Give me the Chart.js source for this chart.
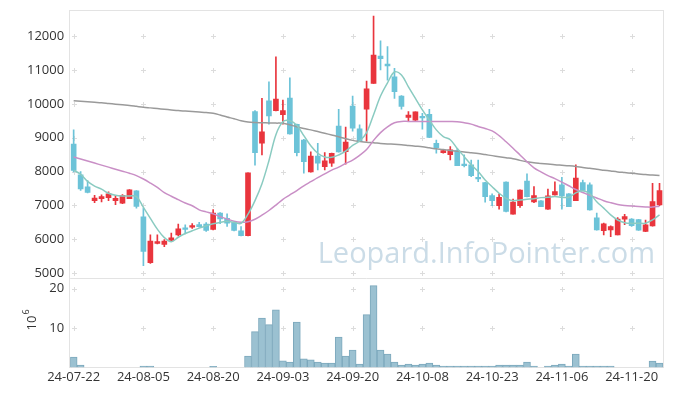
<!DOCTYPE html>
<html>
<head>
<meta charset="utf-8">
<script src="https://cdn.jsdelivr.net/npm/chart.js@4.4.1/dist/chart.umd.min.js"></script>
<style>
  html, body { margin: 0; padding: 0; background: #fff; }
</style>
</head>
<body>
<canvas id="chart" width="673" height="396"></canvas>
<script>
// trading days (yy-mm-dd)
const dates = [
  "24-07-22","24-07-23","24-07-24","24-07-25","24-07-26","24-07-29","24-07-30","24-07-31","24-08-01","24-08-02",
  "24-08-05","24-08-06","24-08-07","24-08-08","24-08-09","24-08-12","24-08-13","24-08-14","24-08-16","24-08-19",
  "24-08-20","24-08-21","24-08-22","24-08-23","24-08-26","24-08-27","24-08-28","24-08-29","24-08-30","24-09-02",
  "24-09-03","24-09-04","24-09-05","24-09-06","24-09-09","24-09-10","24-09-11","24-09-12","24-09-13","24-09-19",
  "24-09-20","24-09-23","24-09-24","24-09-25","24-09-26","24-09-27","24-09-30","24-10-02","24-10-04","24-10-07",
  "24-10-08","24-10-10","24-10-11","24-10-14","24-10-15","24-10-16","24-10-17","24-10-18","24-10-21","24-10-22",
  "24-10-23","24-10-24","24-10-25","24-10-28","24-10-29","24-10-30","24-10-31","24-11-01","24-11-04","24-11-05",
  "24-11-06","24-11-07","24-11-08","24-11-11","24-11-12","24-11-13","24-11-14","24-11-15","24-11-18","24-11-19",
  "24-11-20","24-11-21","24-11-22","24-11-25","24-11-26"
];

const opens = [
  8810,7900,7550,7140,7200,7230,7140,7065,7200,7430,
  6660,5310,5880,5845,5970,6130,6340,6355,6435,6450,
  6290,6770,6620,6490,6250,6110,9770,8835,10090,9800,
  9680,10170,9395,8930,7990,8460,8145,8245,9345,8590,
  9930,9260,9840,10605,11410,11170,10800,10230,9600,9520,
  9630,9690,8835,8560,8500,8620,8220,8195,7830,7675,
  7290,6995,7690,6740,6995,7720,7105,7135,6890,7310,
  7605,7340,7140,7675,7605,6630,6255,6280,6130,6595,
  6600,6580,6230,6395,7015
];
const highs = [
  9230,8000,7730,7300,7310,7400,7300,7320,7470,7440,
  6920,6130,6130,5990,6180,6450,6430,6460,6500,6490,
  6880,6790,6750,6500,6375,7960,9800,10160,10650,11390,
  10110,10770,9400,8950,8580,8830,8560,8545,9840,9310,
  10230,9380,10670,12590,11860,11690,11050,10240,9770,9760,
  9720,9840,8930,8650,8735,8680,8490,8340,8340,7680,
  7340,7340,7700,7190,7460,7930,7555,7140,7480,7700,
  7830,7350,8195,7750,7670,6770,6475,6400,6640,6740,
  6610,6590,6570,7655,7650
];
const lows = [
  7990,7440,7370,7080,7100,7140,7020,7050,7200,6920,
  5220,5290,5860,5785,5950,6100,6160,6320,6360,6230,
  6280,6460,6380,6250,6100,6100,8190,8490,9400,9790,
  9400,9100,8460,7950,7980,8050,8050,8150,8570,8215,
  9190,8880,8900,10600,11000,10700,10160,9840,9490,9500,
  9250,9000,8540,8540,8340,8170,8140,7850,7700,7095,
  6990,6890,6810,6740,6940,7250,7080,6960,6880,7300,
  6890,6960,7140,7430,6860,6270,6130,6080,6130,6430,
  6380,6260,6225,6390,6990
];
const closes = [
  8030,7490,7380,7220,7260,7340,7210,7300,7460,6970,
  5640,5950,5930,5950,6040,6310,6290,6405,6375,6260,
  6770,6600,6475,6260,6110,7960,8560,9170,9640,10140,
  9800,9110,8560,8290,8460,8245,8320,8540,8580,8870,
  9280,8900,10440,11440,11330,11120,10360,9920,9670,9760,
  9580,9010,8705,8620,8640,8175,8170,7880,7780,7260,
  7140,7240,6820,7095,7450,7260,7290,6965,7280,7410,
  7280,6965,7810,7440,6870,6280,6455,6375,6600,6670,
  6400,6270,6425,7115,7440
];

// moving averages as drawn (5, 20 and long term)
const ma5 = [
  8040,7920,7710,7570,7480,7360,7300,7280,7280,7260,
  6940,6620,6300,6050,5930,6060,6170,6250,6330,6400,
  6460,6500,6530,6500,6470,6740,7140,7640,8320,9090,
  9470,9500,9370,9060,8760,8540,8430,8420,8490,8600,
  8770,8900,9150,9680,10230,10620,10940,10850,10500,10160,
  9820,9520,9230,9030,8940,8680,8440,8200,8000,7750,
  7550,7360,7210,7140,7160,7180,7200,7230,7240,7260,
  7240,7240,7370,7430,7340,7110,6920,6720,6570,6490,
  6470,6475,6475,6570,6720
];
const ma20 = [
  8430,8370,8310,8250,8190,8130,8070,8010,7950,7880,
  7780,7660,7530,7380,7270,7170,7070,6990,6870,6810,
  6750,6670,6600,6535,6505,6520,6590,6710,6850,7010,
  7180,7310,7440,7580,7700,7820,7930,8040,8130,8240,
  8340,8480,8650,8920,9150,9320,9440,9480,9480,9480,
  9480,9480,9475,9475,9475,9470,9440,9400,9330,9270,
  9200,9060,8880,8690,8490,8290,8110,7990,7880,7790,
  7690,7580,7470,7380,7300,7220,7140,7080,7030,7000,
  6980,6965,6955,6950,6975
];
const maLong = [
  10090,10075,10060,10045,10030,10010,9990,9970,9950,9925,
  9900,9880,9860,9840,9820,9800,9785,9770,9755,9740,
  9720,9670,9610,9560,9500,9460,9445,9440,9435,9430,
  9425,9380,9320,9270,9230,9180,9130,9080,9030,8970,
  8920,8890,8865,8850,8830,8815,8805,8790,8770,8750,
  8730,8700,8670,8650,8620,8600,8580,8555,8530,8500,
  8470,8440,8410,8380,8330,8290,8260,8240,8220,8200,
  8185,8170,8150,8120,8095,8065,8040,8015,7990,7970,
  7950,7930,7910,7895,7880
];

// volume in millions
const volumes = [
  2.6,0.6,0,0,0,0,0,0,0,0,
  0.33,0.33,0,0,0,0,0,0,0,0,
  0.3,0,0,0,0,2.87,9.06,12.54,10.84,14.58,
  1.68,1.35,11.52,2.19,1.93,1.35,1.09,1.09,7.71,2.87,
  4.4,0.84,13.38,20.76,4.4,3.38,1.35,0.58,0.84,0.58,
  0.84,1.09,0.58,0.33,0.33,0.33,0.33,0.33,0.33,0.33,
  0.33,0.58,0.58,0.58,0.58,1.35,0.33,0,0.33,0.58,
  0.84,0.33,3.38,0.33,0.33,0.33,0.33,0.33,0,0,
  0,0,0,1.6,1.09
];

const priceTicks = [5000, 6000, 7000, 8000, 9000, 10000, 11000, 12000];
const volumeTicks = [10, 20];
const watermark = "Leopard.InfoPointer.com";

const UP = "#e9353d";
const DOWN = "#6cc3d8";
const candleColors = opens.map((o, i) => closes[i] >= o ? UP : DOWN);

// crosses at the grid points, frame, watermark and the 10^6 label
const decorPlugin = {
    id: "decor",
    beforeDatasetsDraw(chart) {
        let ctx = chart.ctx;
        let a = chart.chartArea;
        let x = chart.scales.x, y = chart.scales.y, v = chart.scales.vol;
        ctx.save();

        ctx.font = '29px "Open Sans"';
        ctx.fillStyle = "rgba(160,192,212,0.55)";
        ctx.textAlign = "right";
        ctx.textBaseline = "alphabetic";
        ctx.fillText(watermark, a.right - 8, y.bottom - 15);

        ctx.strokeStyle = "#dcdcdc";
        ctx.lineWidth = 1;
        let xs = x.ticks.map(t => Math.round(x.getPixelForValue(t.value)) + 0.5);
        let ys = priceTicks.map(t => Math.round(y.getPixelForValue(t)) + 0.5)
            .concat(volumeTicks.map(t => Math.round(v.getPixelForValue(t)) + 0.5));
        ctx.beginPath();
        xs.forEach(px => {
            ys.forEach(py => {
                ctx.moveTo(px - 2.5, py); ctx.lineTo(px + 2.5, py);
                ctx.moveTo(px, py - 2.5); ctx.lineTo(px, py + 2.5);
            });
        });
        ctx.stroke();

        ctx.strokeStyle = "#e3e3e3";
        ctx.strokeRect(Math.round(a.left) - 0.5, Math.round(a.top) + 0.5, Math.round(a.width) + 1, Math.round(a.height));
        ctx.beginPath();
        ctx.moveTo(a.left, Math.round(y.bottom) + 0.5);
        ctx.lineTo(a.right, Math.round(y.bottom) + 0.5);
        ctx.stroke();

        // axis unit for the volume panel
        ctx.translate(a.left - 34, (v.top + v.bottom) / 2 + 8);
        ctx.rotate(-Math.PI / 2);
        ctx.fillStyle = "#333";
        ctx.textAlign = "left";
        ctx.font = '13px "Open Sans"';
        ctx.fillText("10", 0, 0);
        let w = ctx.measureText("10").width;
        ctx.font = '9px "Open Sans"';
        ctx.fillText("6", w + 1, -7);
        ctx.restore();
    }
};

const tickFont = { family: "'Open Sans', 'Noto Sans', sans-serif", size: 13 };
// y labels get a small line height so the top label does not push the plot down
const yTickFont = { family: "'Open Sans', 'Noto Sans', sans-serif", size: 13, lineHeight: 0.6 };

new Chart(document.getElementById("chart").getContext("2d"), {
    type: "bar",
    data: {
        labels: dates,
        datasets: [
            {
                type: "line", data: ma5, yAxisID: "y", order: 0,
                borderColor: "#8acbc1", borderWidth: 1.5, pointRadius: 0, tension: 0.35
            },
            {
                type: "line", data: ma20, yAxisID: "y", order: 0,
                borderColor: "#c98fc6", borderWidth: 1.5, pointRadius: 0, tension: 0.35
            },
            {
                type: "line", data: maLong, yAxisID: "y", order: 0,
                borderColor: "#9a9a9a", borderWidth: 1.5, pointRadius: 0, tension: 0.35
            },
            {
                data: dates.map((d, i) => [opens[i], closes[i]]), yAxisID: "y", order: 1,
                backgroundColor: candleColors, barThickness: 5, grouped: false
            },
            {
                data: dates.map((d, i) => [lows[i], highs[i]]), yAxisID: "y", order: 2,
                backgroundColor: candleColors, barThickness: 1, grouped: false
            },
            {
                data: volumes, yAxisID: "vol", order: 3,
                backgroundColor: "#9bc1d1", borderColor: "#7ca8bc", borderWidth: 1,
                barPercentage: 1, categoryPercentage: 1, grouped: false
            }
        ]
    },
    options: {
        responsive: false,
        animation: false,
        devicePixelRatio: 1,
        layout: { padding: { top: 10, right: 10, left: 21, bottom: 9 } },
        plugins: { legend: { display: false }, tooltip: { enabled: false } },
        scales: {
            x: {
                offset: true,
                grid: { display: false, drawTicks: false },
                border: { display: false },
                afterBuildTicks: axis => { axis.ticks = axis.ticks.filter(t => t.value % 10 === 0); },
                ticks: { autoSkip: false, maxRotation: 0, color: "#333", font: tickFont, padding: 2 }
            },
            vol: {
                position: "left", stack: "panels", stackWeight: 90,
                min: 0, max: 22.8,
                grid: { display: false, drawTicks: false },
                border: { display: false },
                afterBuildTicks: axis => { axis.ticks = volumeTicks.map(t => ({ value: t })); },
                ticks: { color: "#333", font: yTickFont, padding: 6, callback: val => String(val) }
            },
            y: {
                position: "left", stack: "panels", stackWeight: 268,
                min: 4870, max: 12770,
                grid: { display: false, drawTicks: false },
                border: { display: false },
                afterBuildTicks: axis => { axis.ticks = priceTicks.map(t => ({ value: t })); },
                ticks: { color: "#333", font: yTickFont, padding: 6, callback: val => String(val) }
            }
        }
    },
    plugins: [decorPlugin]
});
</script>
</body>
</html>
